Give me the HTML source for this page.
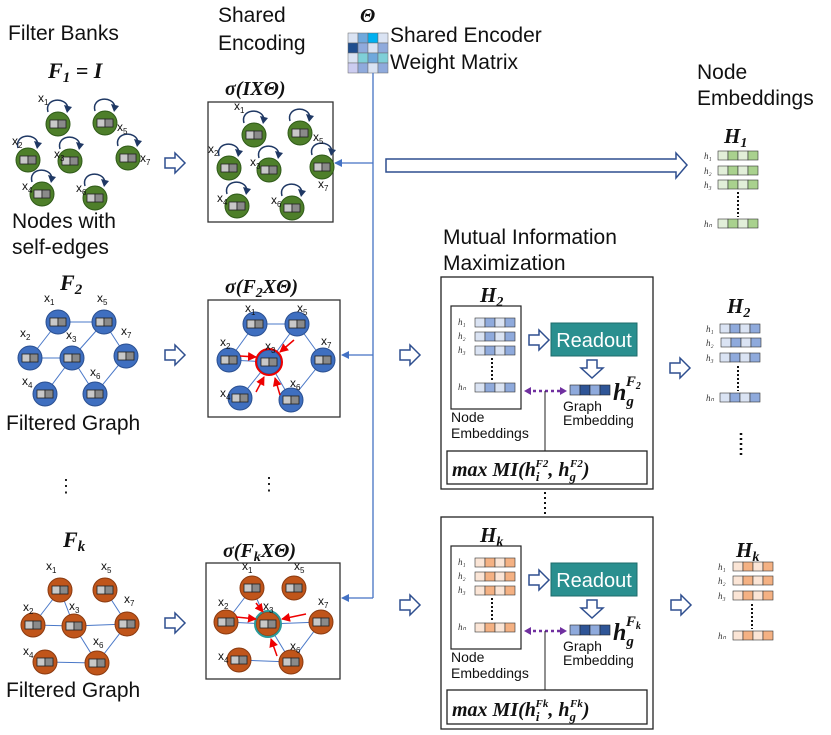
<!DOCTYPE html>
<html><head><meta charset="utf-8"><style>
html,body{margin:0;padding:0;background:#fff;}
svg{display:block;font-family:"Liberation Sans",sans-serif;}
.t{font-size:21px;fill:#111;}
.m{font-family:"Liberation Serif",serif;font-weight:bold;font-style:italic;fill:#111;}
.lb{font-size:12px;fill:#111;}
.e{stroke:#4a78c8;stroke-width:1;}
.sm{font-family:"Liberation Serif",serif;font-style:italic;font-size:9px;fill:#333;}
</style></head><body>
<svg width="831" height="735" viewBox="0 0 831 735" xmlns="http://www.w3.org/2000/svg">
<defs>
<g id="bar"><rect x="-8" y="-4" width="8" height="8" fill="#c8c8c8" stroke="#222" stroke-width="0.8"/><rect x="0" y="-4" width="8" height="8" fill="#8a8a8a" stroke="#222" stroke-width="0.8"/></g>
<g id="ng"><circle r="12" fill="#4e7f2a" stroke="#2f5a18"/><use href="#bar"/></g>
<g id="nb"><circle r="12" fill="#3f6fc0" stroke="#2a4f90"/><use href="#bar"/></g>
<g id="no"><circle r="12" fill="#c0551a" stroke="#8a3a10"/><use href="#bar"/></g>
<g id="loop"><path d="M-10,-12 C-14,-26 8,-28 10,-16" fill="none" stroke="#1f3864" stroke-width="1.5"/><path d="M6,-19 L14,-17 L9,-11 Z" fill="#1f3864"/></g>
<g id="ha"><path d="M0,-5 L10,-5 L10,-10 L20,0 L10,10 L10,5 L0,5 Z" fill="#fff" stroke="#2f4f8f" stroke-width="1.5"/></g>
<g id="hd"><path d="M-5,0 L5,0 L5,8 L11,8 L0,18 L-11,8 L-5,8 Z" fill="#fff" stroke="#2f4f8f" stroke-width="1.5"/></g>
<marker id="ab" markerWidth="8" markerHeight="8" refX="7" refY="4" orient="auto" markerUnits="userSpaceOnUse"><path d="M0,0 L8,4 L0,8 Z" fill="#4472c4"/></marker>
<marker id="ar" markerWidth="9" markerHeight="9" refX="8" refY="4.5" orient="auto" markerUnits="userSpaceOnUse"><path d="M0,0 L9,4.5 L0,9 Z" fill="#e00"/></marker>
<g id="rg"><rect x="0" y="0" width="10" height="9" fill="#e2efd9" stroke="#333" stroke-width=".6"/><rect x="10" y="0" width="10" height="9" fill="#a9d18e" stroke="#333" stroke-width=".6"/><rect x="20" y="0" width="10" height="9" fill="#e2efd9" stroke="#333" stroke-width=".6"/><rect x="30" y="0" width="10" height="9" fill="#a9d18e" stroke="#333" stroke-width=".6"/></g>
<g id="rb"><rect x="0" y="0" width="10" height="9" fill="#dae3f3" stroke="#333" stroke-width=".6"/><rect x="10" y="0" width="10" height="9" fill="#8faadc" stroke="#333" stroke-width=".6"/><rect x="20" y="0" width="10" height="9" fill="#dae3f3" stroke="#333" stroke-width=".6"/><rect x="30" y="0" width="10" height="9" fill="#8faadc" stroke="#333" stroke-width=".6"/></g>
<g id="ro"><rect x="0" y="0" width="10" height="9" fill="#fbe5d6" stroke="#333" stroke-width=".6"/><rect x="10" y="0" width="10" height="9" fill="#f4b183" stroke="#333" stroke-width=".6"/><rect x="20" y="0" width="10" height="9" fill="#fbe5d6" stroke="#333" stroke-width=".6"/><rect x="30" y="0" width="10" height="9" fill="#f4b183" stroke="#333" stroke-width=".6"/></g>
</defs>

<!-- headers -->
<text class="t" x="8" y="40">Filter Banks</text>
<text class="t" x="218" y="22">Shared</text>
<text class="t" x="218" y="50">Encoding</text>
<text class="m" x="360" y="22" font-size="20">Θ</text>
<text class="t" x="390" y="42">Shared Encoder</text>
<text class="t" x="390" y="69">Weight Matrix</text>
<text class="t" x="697" y="79">Node</text>
<text class="t" x="697" y="105">Embeddings</text>

<!-- matrix -->
<g stroke="#666" stroke-width=".5">
<rect x="348" y="33" width="10" height="10" fill="#dae3f3"/><rect x="358" y="33" width="10" height="10" fill="#6fa8dc"/><rect x="368" y="33" width="10" height="10" fill="#00b0f0"/><rect x="378" y="33" width="10" height="10" fill="#dae3f3"/>
<rect x="348" y="43" width="10" height="10" fill="#1f4e8f"/><rect x="358" y="43" width="10" height="10" fill="#8faadc"/><rect x="368" y="43" width="10" height="10" fill="#dae3f3"/><rect x="378" y="43" width="10" height="10" fill="#8faadc"/>
<rect x="348" y="53" width="10" height="10" fill="#dae3f3"/><rect x="358" y="53" width="10" height="10" fill="#7fcfd8"/><rect x="368" y="53" width="10" height="10" fill="#6fa8dc"/><rect x="378" y="53" width="10" height="10" fill="#7fcfd8"/>
<rect x="348" y="63" width="10" height="10" fill="#ccccf0"/><rect x="358" y="63" width="10" height="10" fill="#8faadc"/><rect x="368" y="63" width="10" height="10" fill="#dae3f3"/><rect x="378" y="63" width="10" height="10" fill="#8faadc"/>
</g>
<line x1="373" y1="73" x2="373" y2="598" stroke="#4472c4" stroke-width="1.3"/>
<line x1="373" y1="163" x2="335" y2="163" stroke="#4472c4" stroke-width="1.3" marker-end="url(#ab)"/>
<line x1="373" y1="355" x2="342" y2="355" stroke="#4472c4" stroke-width="1.3" marker-end="url(#ab)"/>
<line x1="373" y1="598" x2="342" y2="598" stroke="#4472c4" stroke-width="1.3" marker-end="url(#ab)"/>
<path d="M386,159 L676,159 L676,153 L687,165 L676,178 L676,172 L386,172 Z" fill="#fff" stroke="#2f4f8f" stroke-width="1.5"/>

<!-- F1 -->
<text class="m" x="48" y="78" font-size="22">F<tspan font-size="15" dy="4">1</tspan><tspan dy="-4"> = I</tspan></text>
<g>
<use href="#ng" x="58" y="124"/><use href="#loop" x="58" y="124"/>
<use href="#ng" x="105" y="123"/><use href="#loop" x="105" y="123"/>
<use href="#ng" x="28" y="160"/><use href="#loop" x="28" y="160"/>
<use href="#ng" x="70" y="161"/><use href="#loop" x="70" y="161"/>
<use href="#ng" x="128" y="158"/><use href="#loop" x="128" y="158"/>
<use href="#ng" x="42" y="194"/><use href="#loop" x="42" y="194"/>
<use href="#ng" x="95" y="198"/><use href="#loop" x="95" y="198"/>
</g>
<g class="lb"><text x="38" y="102">x<tspan font-size="8" dy="3">1</tspan></text><text x="117" y="131">x<tspan font-size="8" dy="3">5</tspan></text><text x="12" y="145">x<tspan font-size="8" dy="3">2</tspan></text><text x="54" y="158">x<tspan font-size="8" dy="3">3</tspan></text><text x="140" y="162">x<tspan font-size="8" dy="3">7</tspan></text><text x="22" y="190">x<tspan font-size="8" dy="3">4</tspan></text><text x="76" y="192">x<tspan font-size="8" dy="3">6</tspan></text></g>
<text class="t" x="12" y="228">Nodes with</text>
<text class="t" x="12" y="254">self-edges</text>
<use href="#ha" x="165" y="163"/>

<!-- box 1 -->
<text class="m" x="225" y="95" font-size="20">σ(IXΘ)</text>
<rect x="208" y="102" width="125" height="120" fill="none" stroke="#333" stroke-width="1.3"/>
<use href="#ng" x="254" y="135"/><use href="#loop" x="254" y="135"/>
<use href="#ng" x="300" y="133"/><use href="#loop" x="300" y="133"/>
<use href="#ng" x="229" y="168"/><use href="#loop" x="229" y="168"/>
<use href="#ng" x="269" y="170"/><use href="#loop" x="269" y="170"/>
<use href="#ng" x="322" y="167"/><use href="#loop" x="322" y="167"/>
<use href="#ng" x="237" y="206"/><use href="#loop" x="237" y="206"/>
<use href="#ng" x="292" y="208"/><use href="#loop" x="292" y="208"/>
<g class="lb"><text x="234" y="110">x<tspan font-size="8" dy="3">1</tspan></text><text x="313" y="141">x<tspan font-size="8" dy="3">5</tspan></text><text x="208" y="153">x<tspan font-size="8" dy="3">2</tspan></text><text x="250" y="166">x<tspan font-size="8" dy="3">3</tspan></text><text x="318" y="188">x<tspan font-size="8" dy="3">7</tspan></text><text x="217" y="202">x<tspan font-size="8" dy="3">4</tspan></text><text x="271" y="204">x<tspan font-size="8" dy="3">6</tspan></text></g>

<!-- F2 -->
<text class="m" x="60" y="290" font-size="22">F<tspan font-size="15" dy="4">2</tspan></text>
<g class="e"><line x1="58" y1="322" x2="104" y2="322"/><line x1="58" y1="322" x2="30" y2="358"/><line x1="30" y1="358" x2="72" y2="358"/><line x1="72" y1="358" x2="104" y2="322"/><line x1="72" y1="358" x2="45" y2="394"/><line x1="72" y1="358" x2="95" y2="394"/><line x1="104" y1="322" x2="126" y2="356"/><line x1="126" y1="356" x2="95" y2="394"/></g>
<use href="#nb" x="58" y="322"/><use href="#nb" x="104" y="322"/><use href="#nb" x="30" y="358"/><use href="#nb" x="72" y="358"/><use href="#nb" x="126" y="356"/><use href="#nb" x="45" y="394"/><use href="#nb" x="95" y="394"/>
<g class="lb"><text x="44" y="302">x<tspan font-size="8" dy="3">1</tspan></text><text x="97" y="302">x<tspan font-size="8" dy="3">5</tspan></text><text x="20" y="337">x<tspan font-size="8" dy="3">2</tspan></text><text x="66" y="339">x<tspan font-size="8" dy="3">3</tspan></text><text x="121" y="335">x<tspan font-size="8" dy="3">7</tspan></text><text x="22" y="385">x<tspan font-size="8" dy="3">4</tspan></text><text x="90" y="376">x<tspan font-size="8" dy="3">6</tspan></text></g>
<text class="t" x="6" y="430">Filtered Graph</text>
<use href="#ha" x="165" y="355"/>
<text x="57" y="492" font-size="18" fill="#111">⋮</text>

<!-- box 2 -->
<text class="m" x="225" y="293" font-size="20">σ(F<tspan font-size="14" dy="4">2</tspan><tspan dy="-4">XΘ)</tspan></text>
<rect x="208" y="300" width="132" height="117" fill="none" stroke="#333" stroke-width="1.3"/>
<g class="e"><line x1="255" y1="324" x2="297" y2="324"/><line x1="255" y1="324" x2="229" y2="360"/><line x1="229" y1="360" x2="269" y2="362"/><line x1="269" y1="362" x2="297" y2="324"/><line x1="269" y1="362" x2="240" y2="398"/><line x1="269" y1="362" x2="291" y2="400"/><line x1="297" y1="324" x2="323" y2="360"/><line x1="323" y1="360" x2="291" y2="400"/></g>
<use href="#nb" x="255" y="324"/><use href="#nb" x="297" y="324"/><use href="#nb" x="229" y="360"/><use href="#nb" x="269" y="362"/><use href="#nb" x="323" y="360"/><use href="#nb" x="240" y="398"/><use href="#nb" x="291" y="400"/>
<circle cx="269" cy="362" r="13" fill="none" stroke="#e00" stroke-width="2"/>
<g stroke="#e00" stroke-width="1.5"><line x1="240" y1="356" x2="256" y2="357" marker-end="url(#ar)"/><line x1="294" y1="340" x2="280" y2="352" marker-end="url(#ar)"/><line x1="256" y1="392" x2="264" y2="377" marker-end="url(#ar)"/><line x1="280" y1="395" x2="275" y2="378" marker-end="url(#ar)"/></g>
<g class="lb"><text x="245" y="312">x<tspan font-size="8" dy="3">1</tspan></text><text x="297" y="312">x<tspan font-size="8" dy="3">5</tspan></text><text x="220" y="346">x<tspan font-size="8" dy="3">2</tspan></text><text x="265" y="350">x<tspan font-size="8" dy="3">3</tspan></text><text x="321" y="345">x<tspan font-size="8" dy="3">7</tspan></text><text x="220" y="397">x<tspan font-size="8" dy="3">4</tspan></text><text x="290" y="387">x<tspan font-size="8" dy="3">6</tspan></text></g>
<text x="260" y="490" font-size="18" fill="#111">⋮</text>
<use href="#ha" x="400" y="355"/>

<!-- Fk -->
<text class="m" x="63" y="547" font-size="22">F<tspan font-size="15" dy="4">k</tspan></text>
<g class="e"><line x1="60" y1="590" x2="33" y2="625"/><line x1="60" y1="590" x2="74" y2="626"/><line x1="33" y1="625" x2="74" y2="626"/><line x1="74" y1="626" x2="127" y2="624"/><line x1="74" y1="626" x2="97" y2="663"/><line x1="105" y1="590" x2="127" y2="624"/><line x1="127" y1="624" x2="97" y2="663"/><line x1="45" y1="662" x2="97" y2="663"/></g>
<use href="#no" x="60" y="590"/><use href="#no" x="105" y="590"/><use href="#no" x="33" y="625"/><use href="#no" x="74" y="626"/><use href="#no" x="127" y="624"/><use href="#no" x="45" y="662"/><use href="#no" x="97" y="663"/>
<g class="lb"><text x="46" y="570">x<tspan font-size="8" dy="3">1</tspan></text><text x="101" y="570">x<tspan font-size="8" dy="3">5</tspan></text><text x="23" y="611">x<tspan font-size="8" dy="3">2</tspan></text><text x="69" y="610">x<tspan font-size="8" dy="3">3</tspan></text><text x="124" y="603">x<tspan font-size="8" dy="3">7</tspan></text><text x="23" y="655">x<tspan font-size="8" dy="3">4</tspan></text><text x="93" y="645">x<tspan font-size="8" dy="3">6</tspan></text></g>
<text class="t" x="6" y="697">Filtered Graph</text>
<use href="#ha" x="165" y="623"/>

<!-- box 3 -->
<text class="m" x="223" y="557" font-size="20">σ(F<tspan font-size="14" dy="4">k</tspan><tspan dy="-4">XΘ)</tspan></text>
<rect x="206" y="563" width="134" height="116" fill="none" stroke="#333" stroke-width="1.3"/>
<g class="e"><line x1="252" y1="588" x2="226" y2="622"/><line x1="252" y1="588" x2="268" y2="624"/><line x1="226" y1="622" x2="268" y2="624"/><line x1="268" y1="624" x2="321" y2="622"/><line x1="268" y1="624" x2="291" y2="662"/><line x1="321" y1="622" x2="291" y2="662"/><line x1="239" y1="660" x2="291" y2="662"/></g>
<use href="#no" x="252" y="588"/><use href="#no" x="294" y="588"/><use href="#no" x="226" y="622"/><use href="#no" x="268" y="624"/><use href="#no" x="321" y="622"/><use href="#no" x="239" y="660"/><use href="#no" x="291" y="662"/>
<circle cx="268" cy="624" r="13" fill="none" stroke="#2a9a9a" stroke-width="2"/>
<g stroke="#e00" stroke-width="1.5"><line x1="256" y1="603" x2="263" y2="612" marker-end="url(#ar)"/><line x1="236" y1="617" x2="256" y2="619" marker-end="url(#ar)"/><line x1="306" y1="614" x2="282" y2="619" marker-end="url(#ar)"/><line x1="277" y1="656" x2="271" y2="639" marker-end="url(#ar)"/></g>
<g class="lb"><text x="242" y="570">x<tspan font-size="8" dy="3">1</tspan></text><text x="294" y="570">x<tspan font-size="8" dy="3">5</tspan></text><text x="218" y="606">x<tspan font-size="8" dy="3">2</tspan></text><text x="263" y="610">x<tspan font-size="8" dy="3">3</tspan></text><text x="318" y="605">x<tspan font-size="8" dy="3">7</tspan></text><text x="218" y="660">x<tspan font-size="8" dy="3">4</tspan></text><text x="290" y="650">x<tspan font-size="8" dy="3">6</tspan></text></g>
<use href="#ha" x="400" y="605"/>

<!-- MI section -->
<text class="t" x="443" y="244">Mutual Information</text>
<text class="t" x="443" y="270">Maximization</text>

<!-- MI box 1 -->
<rect x="441" y="277" width="212" height="212" fill="none" stroke="#222" stroke-width="1.3"/>
<text class="m" x="480" y="302" font-size="21">H<tspan font-size="14" dy="4">2</tspan></text>
<rect x="451" y="306" width="70" height="103" fill="none" stroke="#222" stroke-width="1.2"/>
<use href="#rb" x="475" y="318"/><use href="#rb" x="475" y="332"/><use href="#rb" x="475" y="346"/><use href="#rb" x="475" y="383"/>
<text class="sm" x="458" y="325">h₁</text><text class="sm" x="458" y="339">h₂</text><text class="sm" x="458" y="353">h₃</text><text class="sm" x="458" y="390">hₙ</text>
<line x1="492" y1="358" x2="492" y2="381" stroke="#111" stroke-width="2" stroke-dasharray="2,2"/>
<use href="#ha" x="529" y="340"/>
<rect x="551" y="323" width="86" height="33" fill="#2a8f8f" stroke="#1d6b6b"/>
<text x="594" y="347" font-size="20" fill="#fff" text-anchor="middle">Readout</text>
<use href="#hd" x="592" y="360"/>
<g stroke="#222" stroke-width=".6"><rect x="570" y="385" width="10" height="10" fill="#8faadc"/><rect x="580" y="385" width="10" height="10" fill="#2f5597"/><rect x="590" y="385" width="10" height="10" fill="#8faadc"/><rect x="600" y="385" width="10" height="10" fill="#2f5597"/></g>
<text class="m" x="613" y="400" font-size="24">h<tspan font-size="15" dy="6">g</tspan><tspan font-size="15" dx="-8" dy="-20">F</tspan><tspan font-size="10" dy="3">2</tspan></text>
<line x1="527" y1="391" x2="563" y2="391" stroke="#7030a0" stroke-width="2.5" stroke-dasharray="3,3"/>
<path d="M524,391 L531,387 L531,395 Z M567,391 L560,387 L560,395 Z" fill="#7030a0"/>
<line x1="545" y1="391" x2="545" y2="451" stroke="#222"/>
<text x="451" y="422" font-size="14" fill="#111">Node</text>
<text x="451" y="438" font-size="14" fill="#111">Embeddings</text>
<text x="563" y="411" font-size="14" fill="#111">Graph</text>
<text x="563" y="425" font-size="14" fill="#111">Embedding</text>
<rect x="447" y="451" width="200" height="33" fill="none" stroke="#222" stroke-width="1.3"/>
<text class="m" x="452" y="476" font-size="20">max MI(h<tspan font-size="13" dy="5">i</tspan><tspan font-size="11" dx="-4" dy="-14">F2</tspan><tspan dy="9">, h</tspan><tspan font-size="13" dy="5">g</tspan><tspan font-size="11" dx="-6" dy="-14">F2</tspan><tspan dy="9">)</tspan></text>
<line x1="545" y1="492" x2="545" y2="517" stroke="#111" stroke-width="2" stroke-dasharray="2,3"/>

<!-- MI box 2 -->
<rect x="441" y="517" width="212" height="212" fill="none" stroke="#222" stroke-width="1.3"/>
<text class="m" x="480" y="542" font-size="21">H<tspan font-size="14" dy="4">k</tspan></text>
<rect x="451" y="546" width="70" height="103" fill="none" stroke="#222" stroke-width="1.2"/>
<use href="#ro" x="475" y="558"/><use href="#ro" x="475" y="572"/><use href="#ro" x="475" y="586"/><use href="#ro" x="475" y="623"/>
<text class="sm" x="458" y="565">h₁</text><text class="sm" x="458" y="579">h₂</text><text class="sm" x="458" y="593">h₃</text><text class="sm" x="458" y="630">hₙ</text>
<line x1="492" y1="598" x2="492" y2="621" stroke="#111" stroke-width="2" stroke-dasharray="2,2"/>
<use href="#ha" x="529" y="580"/>
<rect x="551" y="563" width="86" height="33" fill="#2a8f8f" stroke="#1d6b6b"/>
<text x="594" y="587" font-size="20" fill="#fff" text-anchor="middle">Readout</text>
<use href="#hd" x="592" y="600"/>
<g stroke="#222" stroke-width=".6"><rect x="570" y="625" width="10" height="10" fill="#8faadc"/><rect x="580" y="625" width="10" height="10" fill="#2f5597"/><rect x="590" y="625" width="10" height="10" fill="#8faadc"/><rect x="600" y="625" width="10" height="10" fill="#2f5597"/></g>
<text class="m" x="613" y="640" font-size="24">h<tspan font-size="15" dy="6">g</tspan><tspan font-size="15" dx="-8" dy="-20">F</tspan><tspan font-size="10" dy="3">k</tspan></text>
<line x1="527" y1="631" x2="563" y2="631" stroke="#7030a0" stroke-width="2.5" stroke-dasharray="3,3"/>
<path d="M524,631 L531,627 L531,635 Z M567,631 L560,627 L560,635 Z" fill="#7030a0"/>
<line x1="545" y1="631" x2="545" y2="690" stroke="#222"/>
<text x="451" y="662" font-size="14" fill="#111">Node</text>
<text x="451" y="678" font-size="14" fill="#111">Embeddings</text>
<text x="563" y="651" font-size="14" fill="#111">Graph</text>
<text x="563" y="665" font-size="14" fill="#111">Embedding</text>
<rect x="447" y="690" width="200" height="34" fill="none" stroke="#222" stroke-width="1.3"/>
<text class="m" x="452" y="716" font-size="20">max MI(h<tspan font-size="13" dy="5">i</tspan><tspan font-size="11" dx="-4" dy="-14">Fk</tspan><tspan dy="9">, h</tspan><tspan font-size="13" dy="5">g</tspan><tspan font-size="11" dx="-6" dy="-14">Fk</tspan><tspan dy="9">)</tspan></text>

<!-- right embeddings -->
<use href="#ha" x="670" y="368"/>
<use href="#ha" x="671" y="605"/>
<text class="m" x="724" y="143" font-size="21">H<tspan font-size="14" dy="4">1</tspan></text>
<use href="#rg" x="718" y="151"/><use href="#rg" x="718" y="166"/><use href="#rg" x="718" y="180"/><use href="#rg" x="718" y="219"/>
<text class="sm" x="704" y="159">h₁</text><text class="sm" x="704" y="174">h₂</text><text class="sm" x="704" y="188">h₃</text><text class="sm" x="704" y="227">hₙ</text>
<line x1="738" y1="192" x2="738" y2="217" stroke="#111" stroke-width="2" stroke-dasharray="2,2"/>

<text class="m" x="727" y="313" font-size="21">H<tspan font-size="14" dy="4">2</tspan></text>
<use href="#rb" x="720" y="324"/><use href="#rb" x="721" y="338"/><use href="#rb" x="720" y="353"/><use href="#rb" x="720" y="393"/>
<text class="sm" x="706" y="332">h₁</text><text class="sm" x="706" y="346">h₂</text><text class="sm" x="706" y="361">h₃</text><text class="sm" x="706" y="401">hₙ</text>
<line x1="738" y1="366" x2="738" y2="391" stroke="#111" stroke-width="2" stroke-dasharray="2,2"/>
<line x1="741" y1="433" x2="741" y2="458" stroke="#111" stroke-width="2.5" stroke-dasharray="2,3"/>

<text class="m" x="736" y="557" font-size="21">H<tspan font-size="14" dy="4">k</tspan></text>
<use href="#ro" x="733" y="562"/><use href="#ro" x="733" y="576"/><use href="#ro" x="733" y="591"/><use href="#ro" x="733" y="631"/>
<text class="sm" x="718" y="570">h₁</text><text class="sm" x="718" y="584">h₂</text><text class="sm" x="718" y="599">h₃</text><text class="sm" x="718" y="639">hₙ</text>
<line x1="752" y1="604" x2="752" y2="629" stroke="#111" stroke-width="2" stroke-dasharray="2,2"/>
</svg>
</body></html>
